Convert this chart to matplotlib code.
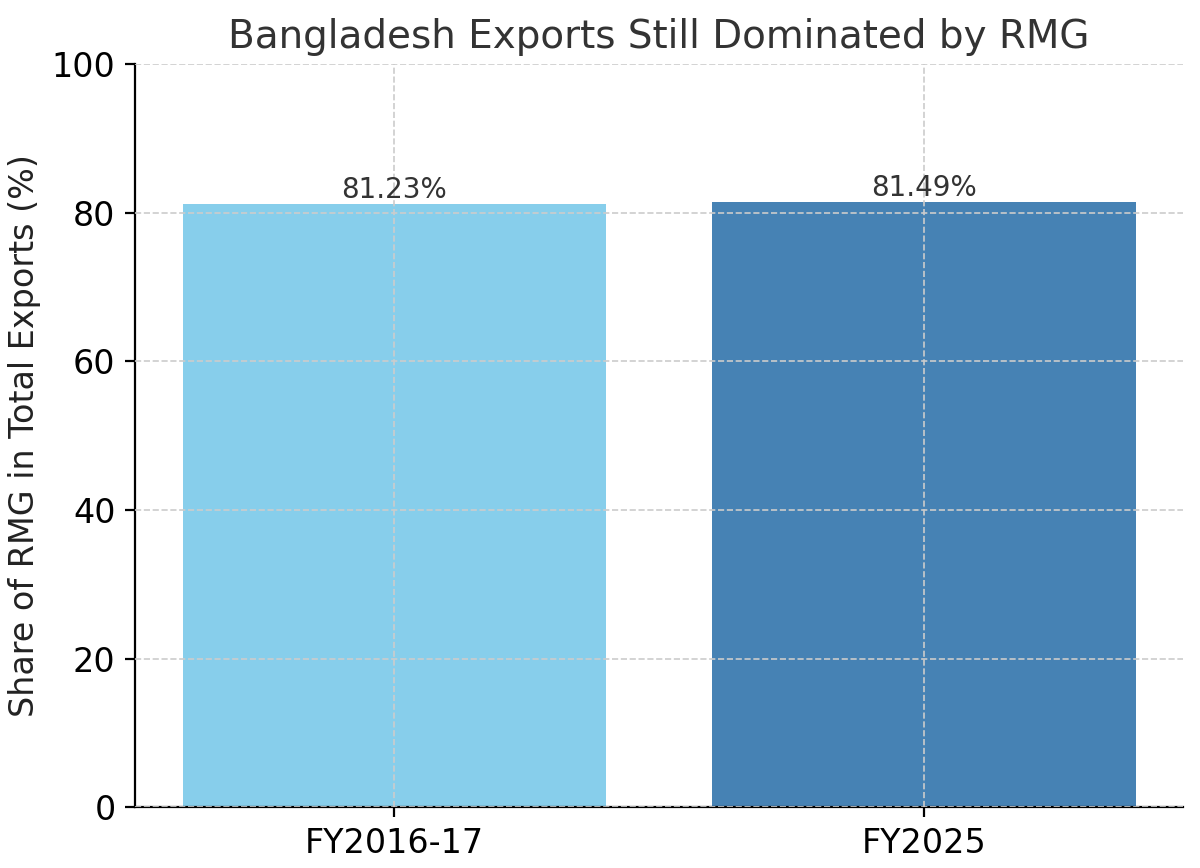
import matplotlib
matplotlib.use("Agg")
import matplotlib.pyplot as plt

categories = ["FY2016-17", "FY2025"]
values = [81.23, 81.49]
colors = ["skyblue", "steelblue"]

fig, ax = plt.subplots(figsize=(6, 4.34), dpi=200)
fig.subplots_adjust(left=0.1125, right=0.986, top=0.926, bottom=0.07)
bars = ax.bar(categories, values, color=colors)
for b, v in zip(bars, values):
    ax.text(b.get_x() + b.get_width() / 2, v, f"{v:.2f}%", ha="center", va="bottom",
            fontsize=10, color="#333333")
ax.set_ylim(0, 100)
ax.set_title("Bangladesh Exports Still Dominated by RMG", fontsize=14, color="#333333")
ax.set_ylabel("Share of RMG in Total Exports (%)", fontsize=12, color="#222222")
ax.tick_params(labelsize=12)
ax.grid(True, linestyle="--", color="#cccccc", linewidth=0.6)
ax.set_axisbelow(False)
for s in ["top", "right"]:
    ax.spines[s].set_visible(False)
fig.savefig("out.png")
